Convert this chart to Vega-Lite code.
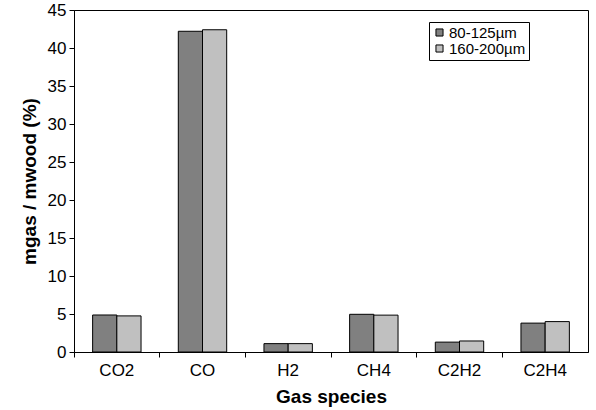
{
  "$schema": "https://vega.github.io/schema/vega-lite/v6.json",
  "autosize": {"type": "none"},
  "width": 514,
  "height": 342,
  "padding": {"left": 74, "top": 10, "right": 8, "bottom": 58},
  "background": "white",
  "config": {
    "font": "Liberation Sans",
    "view": {"stroke": "black", "strokeWidth": 1}
  },
  "data": {
    "values": [
      {"species": "CO2", "size": "80-125µm", "value": 4.87},
      {"species": "CO2", "size": "160-200µm", "value": 4.75},
      {"species": "CO", "size": "80-125µm", "value": 42.2},
      {"species": "CO", "size": "160-200µm", "value": 42.4},
      {"species": "H2", "size": "80-125µm", "value": 1.1},
      {"species": "H2", "size": "160-200µm", "value": 1.1},
      {"species": "CH4", "size": "80-125µm", "value": 4.96},
      {"species": "CH4", "size": "160-200µm", "value": 4.85},
      {"species": "C2H2", "size": "80-125µm", "value": 1.3},
      {"species": "C2H2", "size": "160-200µm", "value": 1.45},
      {"species": "C2H4", "size": "80-125µm", "value": 3.8},
      {"species": "C2H4", "size": "160-200µm", "value": 4.0}
    ]
  },
  "mark": {"type": "bar", "stroke": "black", "strokeWidth": 1},
  "encoding": {
    "x": {
      "field": "species",
      "type": "nominal",
      "sort": ["CO2", "CO", "H2", "CH4", "C2H2", "C2H4"],
      "scale": {"paddingInner": 0, "paddingOuter": 0},
      "axis": {
        "title": "Gas species",
        "titleFontSize": 19,
        "titleFontWeight": "bold",
        "titleColor": "black",
        "titlePadding": 9,
        "labelAngle": 0,
        "labelFontSize": 17,
        "labelColor": "black",
        "labelPadding": 5,
        "bandPosition": 0,
        "tickSize": 5,
        "tickColor": "black",
        "domainColor": "black"
      }
    },
    "xOffset": {
      "field": "size",
      "type": "nominal",
      "sort": ["80-125µm", "160-200µm"],
      "scale": {"paddingInner": 0, "paddingOuter": 0.77}
    },
    "y": {
      "field": "value",
      "type": "quantitative",
      "scale": {"domain": [0, 45], "nice": false},
      "axis": {
        "title": "mgas / mwood (%)",
        "titleFontSize": 19,
        "titleFontWeight": "bold",
        "titleColor": "black",
        "titlePadding": 8,
        "values": [0, 5, 10, 15, 20, 25, 30, 35, 40, 45],
        "labelFontSize": 17,
        "labelColor": "black",
        "labelPadding": 3,
        "tickSize": 5,
        "tickColor": "black",
        "domainColor": "black",
        "grid": false
      }
    },
    "fill": {
      "field": "size",
      "type": "nominal",
      "sort": ["80-125µm", "160-200µm"],
      "scale": {"range": ["#808080", "#c0c0c0"]},
      "legend": {
        "title": null,
        "orient": "none",
        "legendX": 355,
        "legendY": 12,
        "strokeColor": "black",
        "padding": 3,
        "symbolType": "square",
        "symbolSize": 50,
        "symbolStrokeColor": "black",
        "symbolStrokeWidth": 1,
        "labelFontSize": 15,
        "labelColor": "black",
        "labelOffset": 2,
        "rowPadding": 0
      }
    }
  }
}
